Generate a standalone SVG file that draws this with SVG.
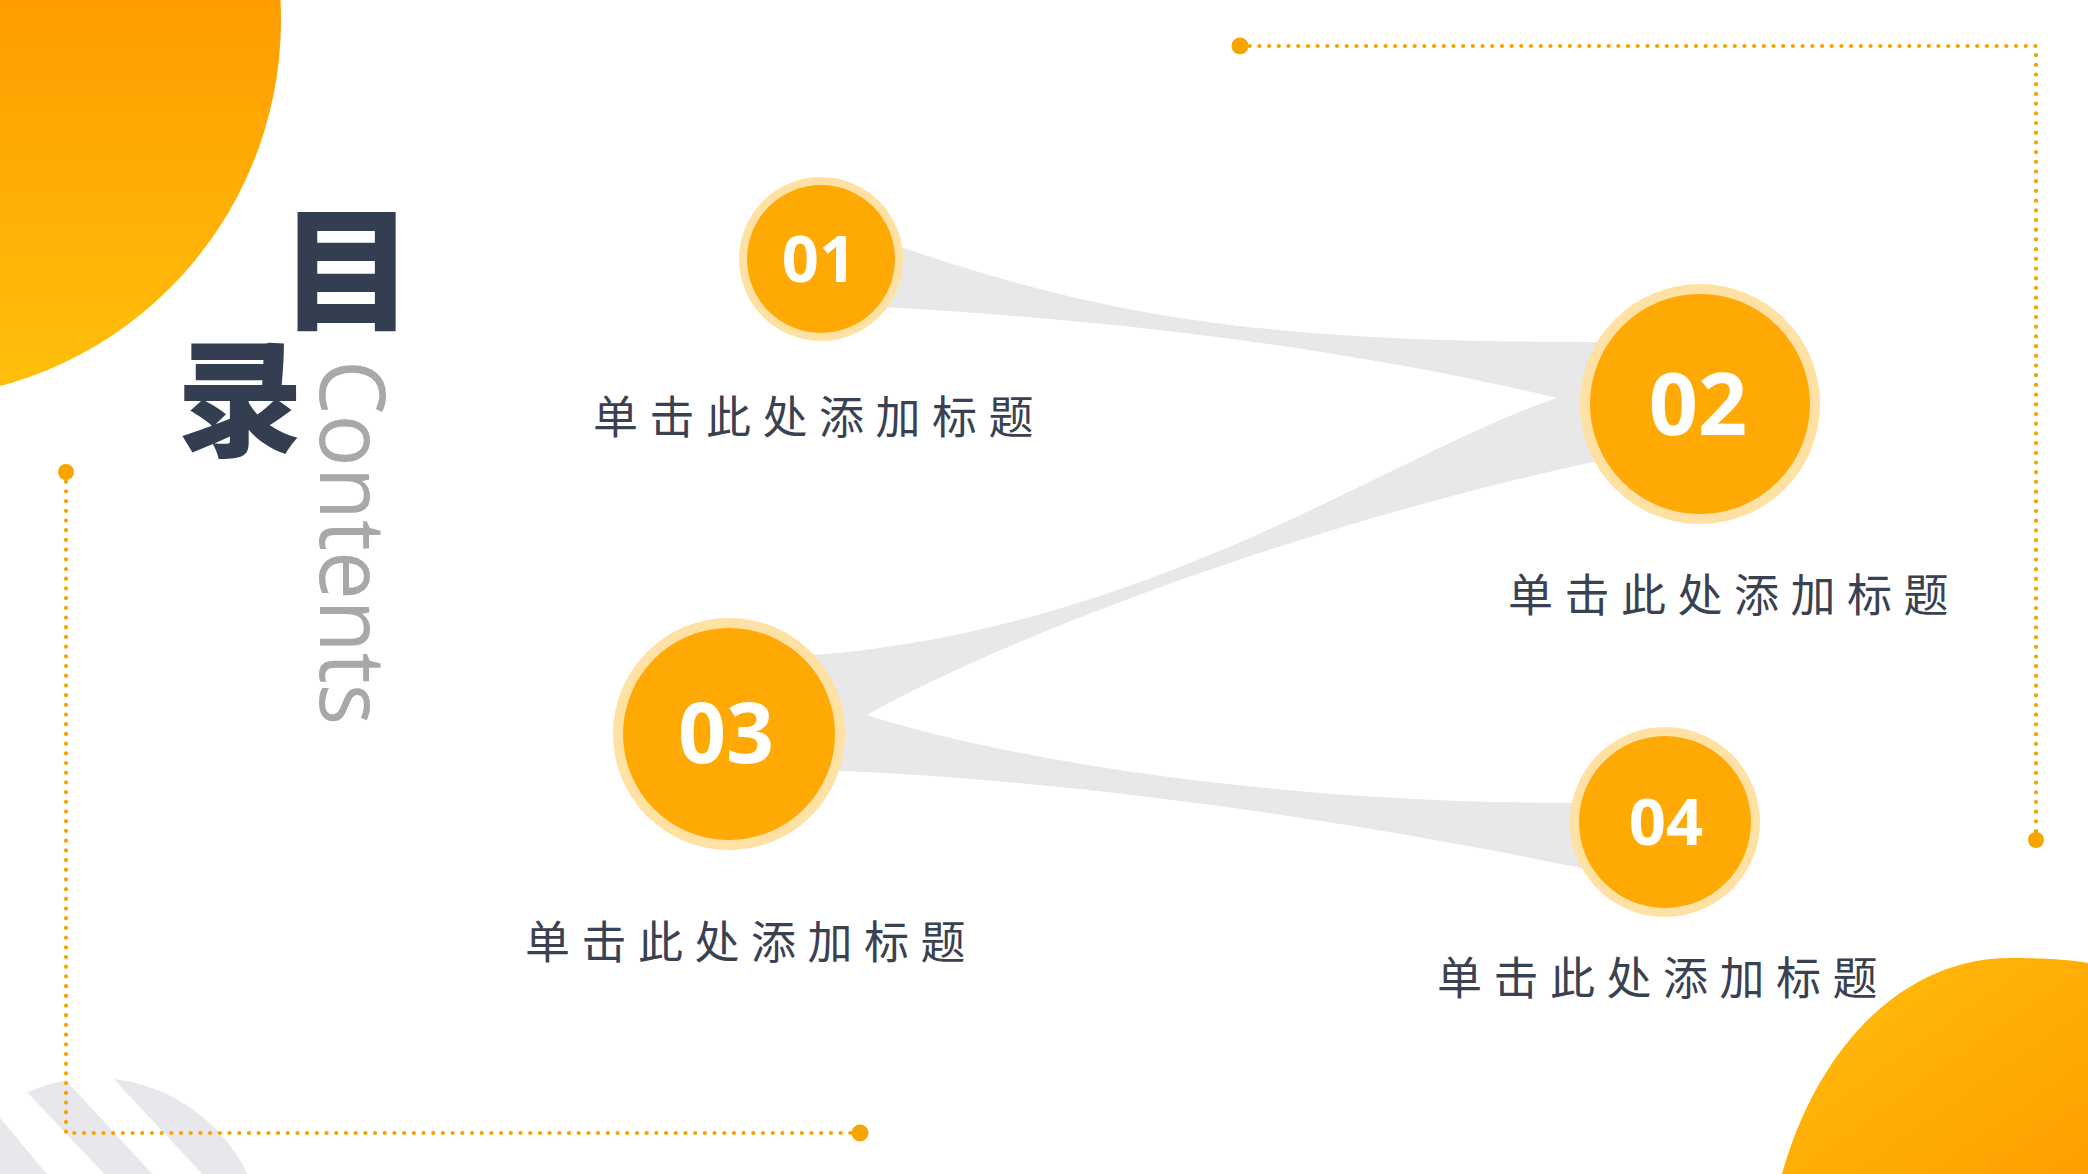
<svg xmlns="http://www.w3.org/2000/svg" width="2088" height="1174" viewBox="0 0 2088 1174">
  <defs>
    <linearGradient id="gTL" gradientUnits="userSpaceOnUse" x1="0" y1="0" x2="0" y2="390">
      <stop offset="0" stop-color="#FF9D00"/>
      <stop offset="1" stop-color="#FFC00C"/>
    </linearGradient>
    <linearGradient id="gBR" x1="0" y1="0" x2="1" y2="1">
      <stop offset="0" stop-color="#FFBE0C"/>
      <stop offset="1" stop-color="#FF9F00"/>
    </linearGradient>
    <style>
      .dots { fill: none; stroke: #F6A400; stroke-width: 4.2; stroke-linecap: round; stroke-dasharray: 0.1 9.6; }
      .dotend { fill: #F6A400; }
      .ring { fill: #FFE1A4; }
      .core { fill: #FFA905; }
      .num { font-family: "Open Sans", "Noto Sans", sans-serif; font-weight: 700; fill: #FFFFFF; text-anchor: middle; }
      .lbl { font-family: "Noto Sans CJK SC", "Noto Sans", sans-serif; font-size: 45px; letter-spacing: 11.5px; fill: #3A4150; }
      .conn { fill: #E8E8E8; }
      .title { font-family: "Noto Sans CJK SC", sans-serif; font-weight: 900; fill: #333F50; text-anchor: middle; }
    </style>
  </defs>

  <!-- background shapes -->
  <circle cx="-98" cy="20" r="379" fill="url(#gTL)"/>
  <path d="M 1782,1174 C 1818,1045 1905,958 2010,958 C 2050,958 2078,961 2088,963 L 2088,1174 Z" fill="url(#gBR)"/>

  <g id="corner-stripes">
    <ellipse cx="95" cy="1250" rx="170" ry="172" fill="#E8E8EC"/>
    <polygon points="-10,1053 108,1178 50,1178 -10,1106" fill="#FFFFFF"/>
    <polygon points="35,1047 84,1047 206,1178 156,1178" fill="#FFFFFF"/>
  </g>

  <!-- dotted frame lines -->
  <g id="frame">
    <path class="dots" d="M 66,472 V 1133 H 860"/>
    <circle class="dotend" cx="66" cy="472" r="8"/>
    <circle class="dotend" cx="860" cy="1133" r="8.5"/>
    <path class="dots" d="M 1240,46 H 2036 V 840"/>
    <circle class="dotend" cx="1240" cy="46" r="8.5"/>
    <circle class="dotend" cx="2036" cy="840" r="8"/>
  </g>

  <!-- title -->
  <g id="title">
    <text class="title" x="347" y="320" font-size="134">目</text>
    <text class="title" x="240" y="446" font-size="126">录</text>
    <text transform="translate(320,360) rotate(90)" x="0" y="0" font-family="'Open Sans', 'Noto Sans', sans-serif" font-size="92" fill="#A8A8A8" textLength="365" lengthAdjust="spacingAndGlyphs">Contents</text>
  </g>

  <!-- connectors -->
  <g id="connectors">
    <path class="conn" d="M 850,236 L 880,240 C 1100,316 1250,342 1600,342 L 1680,342 L 1680,402 L 1557,398 C 1350,348 1100,318 880,307 L 850,307 Z"/>
    <path class="conn" d="M 1557,398 L 1680,394 L 1680,462 L 1593,462 C 1280,530 990,645 867,715 L 760,718 L 760,660 L 813,655 C 1150,630 1400,450 1557,398 Z"/>
    <path class="conn" d="M 867,715 C 980,752 1250,805 1600,803 L 1625,840 L 1600,872 C 1400,830 1100,780 820,770 L 760,770 L 760,712 Z"/>
  </g>

  <!-- nodes -->
  <g id="node-01">
    <circle class="ring" cx="821" cy="259" r="82"/>
    <circle class="core" cx="821" cy="259" r="74"/>
    <text class="num" x="819" y="282" font-size="65">01</text>
    <text class="lbl" x="593" y="434">单击此处添加标题</text>
  </g>
  <g id="node-02">
    <circle class="ring" cx="1700" cy="404" r="120"/>
    <circle class="core" cx="1700" cy="404" r="110"/>
    <text class="num" x="1698" y="435" font-size="86">02</text>
    <text class="lbl" x="1508" y="612">单击此处添加标题</text>
  </g>
  <g id="node-03">
    <circle class="ring" cx="729" cy="734" r="116"/>
    <circle class="core" cx="729" cy="734" r="106"/>
    <text class="num" x="726" y="763" font-size="84">03</text>
    <text class="lbl" x="525" y="959">单击此处添加标题</text>
  </g>
  <g id="node-04">
    <circle class="ring" cx="1665" cy="822" r="95"/>
    <circle class="core" cx="1665" cy="822" r="86"/>
    <text class="num" x="1666" y="845" font-size="65">04</text>
    <text class="lbl" x="1437" y="995">单击此处添加标题</text>
  </g>
</svg>
